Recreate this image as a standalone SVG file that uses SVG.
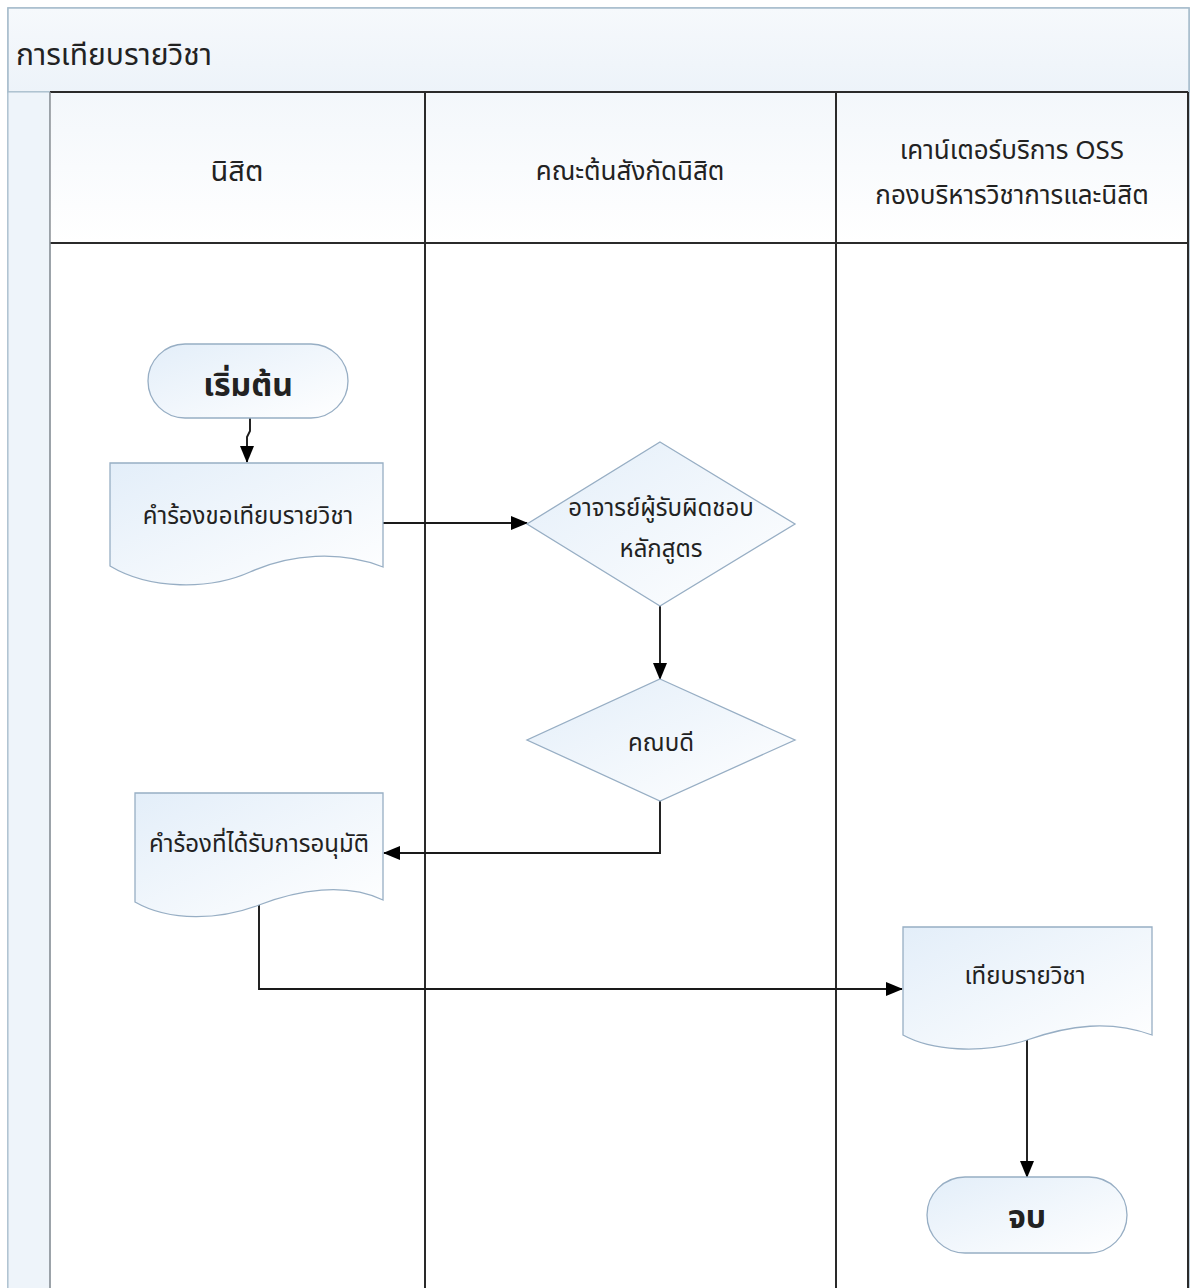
<svg xmlns="http://www.w3.org/2000/svg" width="1195" height="1288" viewBox="0 0 1195 1288">
<defs>
<linearGradient id="shapeFill" x1="0" y1="0" x2="1" y2="1">
<stop offset="0" stop-color="#e3eef9"/>
<stop offset="1" stop-color="#ffffff"/>
</linearGradient>
<linearGradient id="headFill" x1="0" y1="0" x2="0" y2="1">
<stop offset="0" stop-color="#f3f7fb"/>
<stop offset="1" stop-color="#ffffff"/>
</linearGradient>
<linearGradient id="titleFill" x1="0" y1="0" x2="0" y2="1">
<stop offset="0" stop-color="#f6f9fc"/>
<stop offset="1" stop-color="#edf3f9"/>
</linearGradient>
<marker id="arrow" viewBox="0 0 17 14" refX="16" refY="7" markerWidth="17" markerHeight="14" markerUnits="userSpaceOnUse" orient="auto">
<path d="M0,0 L17,7 L0,14 Z" fill="#000"/>
</marker>
</defs>
<style>
text{font-family:"Noto Sans Thai","Noto Sans","DejaVu Sans",sans-serif;fill:#222;text-anchor:middle}
.shape{fill:url(#shapeFill);stroke:#97aec4;stroke-width:1.3}
.conn{fill:none;stroke:#1a1a1a;stroke-width:1.9;marker-end:url(#arrow)}
.lane{stroke:#2a2a2a;stroke-width:2;fill:none}
.t{font-size:24px}
.h{font-size:26px}
.b{font-size:32px;font-weight:bold}
</style>
<rect width="1195" height="1288" fill="#ffffff"/>
<g id="pool">
<rect x="8" y="8" width="1181" height="1290" fill="#ffffff" stroke="#a6bccb" stroke-width="1.5"/>
<rect x="8" y="8" width="1181" height="84" fill="url(#titleFill)" stroke="#a6bccb" stroke-width="1.5"/>
<rect x="8" y="92" width="42" height="1200" fill="#eef4fa" stroke="#a6bccb" stroke-width="1"/>
<text x="16" y="65" style="font-size:30px;text-anchor:start">การเทียบรายวิชา</text>
</g>
<g id="lanes">
<rect x="50" y="92" width="1138" height="151" fill="url(#headFill)"/>
<line x1="50" y1="92" x2="1188" y2="92" class="lane" stroke-width="1.5"/>
<line x1="50" y1="243" x2="1188" y2="243" class="lane" stroke-width="1.5"/>
<line x1="50" y1="92" x2="50" y2="1288" stroke="#8a8f95" stroke-width="1.5"/>
<line x1="425" y1="92" x2="425" y2="1288" class="lane"/>
<line x1="836" y1="92" x2="836" y2="1288" class="lane" stroke-width="1.5"/>
<line x1="1188" y1="92" x2="1188" y2="1288" class="lane"/>
</g>
<g id="lane-student"><text x="237" y="181" style="font-size:29px">นิสิต</text></g>
<g id="lane-faculty"><text x="630" y="180" class="h">คณะต้นสังกัดนิสิต</text></g>
<g id="lane-oss">
<text x="1012" y="159" class="h">เคาน์เตอร์บริการ OSS</text>
<text x="1012" y="204" class="h">กองบริหารวิชาการและนิสิต</text>
</g>
<g id="connectors">
<path class="conn" d="M250,418 V431 L247,437 V462"/>
<path class="conn" d="M381,523 H527"/>
<path class="conn" d="M660,606 V679"/>
<path class="conn" d="M660,801 V853 H384"/>
<path class="conn" d="M259,905 V989 H902"/>
<path class="conn" d="M1027,1040 V1177"/>
</g>
<g id="start">
<rect x="148" y="344" width="200" height="74" rx="37" class="shape"/>
<text x="248" y="396" class="b">เริ่มต้น</text>
</g>
<g id="doc-request">
<path class="shape" d="M110,463 H383 V567 C340,550 290,554 250,572 C210,590 150,590 110,566 Z"/>
<text x="248" y="524" class="t">คำร้องขอเทียบรายวิชา</text>
</g>
<g id="dec-advisor">
<path class="shape" d="M660,442 L795,524 L660,606 L527,524 Z"/>
<text x="661" y="516" class="t">อาจารย์ผู้รับผิดชอบ</text>
<text x="661" y="557" class="t">หลักสูตร</text>
</g>
<g id="dec-dean">
<path class="shape" d="M660,679 L795,740 L660,801 L527,740 Z"/>
<text x="661" y="751" class="t">คณบดี</text>
</g>
<g id="doc-approved">
<path class="shape" d="M135,793 H383 V900 C345,882 298,890 259,905 C220,920 170,922 135,902 Z"/>
<text x="259" y="852" class="t">คำร้องที่ได้รับการอนุมัติ</text>
</g>
<g id="doc-transfer">
<path class="shape" d="M903,927 H1152 V1035 C1110,1020 1070,1025 1027,1040 C980,1055 930,1050 903,1035 Z"/>
<text x="1025" y="984" class="t">เทียบรายวิชา</text>
</g>
<g id="end">
<rect x="927" y="1177" width="200" height="76" rx="38" class="shape"/>
<text x="1027" y="1228" class="b">จบ</text>
</g>
</svg>
